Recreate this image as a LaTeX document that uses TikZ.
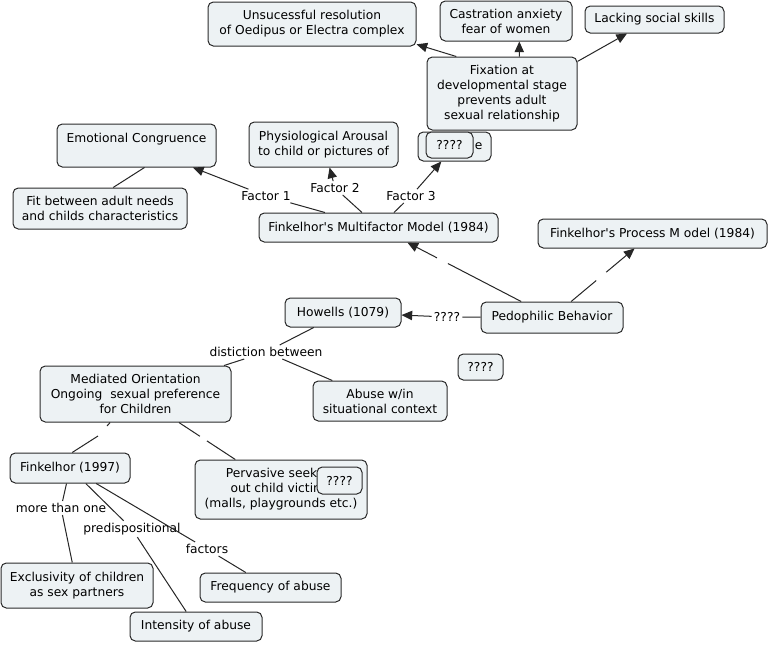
\documentclass[tikz,border=0pt]{standalone}
\usepackage{fontspec}
\setmainfont{DejaVu Sans}
\usetikzlibrary{arrows.meta,calc}
\definecolor{boxfill}{HTML}{EDF2F4}
\definecolor{boxline}{HTML}{2B2B2B}
\newcommand\fs{\fontsize{9.2}{11.25}\selectfont}
\newcommand\apo{\textquotesingle}
\begin{document}
\begin{tikzpicture}[x=0.75pt,y=-0.75pt,
  box/.style={draw=boxline,fill=boxfill,rounded corners=4pt,line width=0.75pt,align=center,inner sep=2pt,font=\fs},
  wh/.style 2 args={minimum width=#1*0.75pt,minimum height=#2*0.75pt},
  lab/.style={inner sep=1.5pt,font=\fs,align=center},
  con/.style={line width=0.75pt,draw=black!85},
  arr/.style={con,-{Triangle[length=8pt,width=7pt]}}]
\useasboundingbox[fill=white] (0,0) rectangle (769,644);

% nodes
\node[box,wh={208}{44}] (uns) at (312,24) {Unsucessful resolution\\of Oedipus or Electra complex};
\node[box,wh={132}{40}] (cas) at (506,21) {Castration anxiety\\fear of women};
\node[box,wh={139}{27}] (lack) at (654.5,19.5) {Lacking social skills};
\node[box,wh={150}{73}] (fix) at (502,93.5) {Fixation at\\developmental stage\\prevents adult\\sexual relationship};
\node[box,wh={73}{29}] (blk) at (454.5,146.5) {\phantom{Blockag}e};
\node[box,wh={47}{26}] (q3) at (449.5,145) {????};
\node[box,wh={159}{43}] (emo) at (136.5,145.5) {Emotional Congruence\\\mbox{}};
\node[box,wh={149}{45}] (phys) at (323.5,144.5) {Physiological Arousal\\to child or pictures of};
\node[box,wh={174}{41}] (fit) at (100,208.5) {Fit between adult needs\\and childs characteristics};
\node[box,wh={239}{29}] (multi) at (378.5,227.5) {Finkelhor\apo s Multifactor Model (1984)};
\node[box,wh={229}{29}] (proc) at (652.5,233.5) {Finkelhor\apo s Process M odel (1984)};
\node[box,wh={116}{29}] (how) at (343,312.5) {Howells (1079)};
\node[box,wh={142}{31}] (ped) at (552,317.5) {Pedophilic Behavior};
\node[box,wh={45}{26}] (q1) at (480.5,367) {????};
\node[box,wh={191}{56}] (med) at (135.5,394) {Mediated Orientation\\Ongoing~ sexual preference\\for Children};
\node[box,wh={134}{40}] (abuse) at (380,401) {Abuse w/in\\situational context};
\node[box,wh={120}{30}] (fink) at (70,468) {Finkelhor (1997)};
\node[box,wh={172}{59}] (perv) at (281,489.5) {Pervasive seek\phantom{ing}\\out child victim\phantom{s}\\(malls, playgrounds etc.)};
\node[box,wh={45}{27}] (q2) at (339.5,480.5) {????};
\node[box,wh={152}{45}] (excl) at (77,585.5) {Exclusivity of children\\as sex partners};
\node[box,wh={141}{29}] (freq) at (270.5,587.5) {Frequency of abuse};
\node[box,wh={132}{29}] (inten) at (196,626.5) {Intensity of abuse};

% linking phrases
\node[lab] (f1) at (266,196) {Factor 1};
\node[lab] (f2) at (335,188) {Factor 2};
\node[lab] (f3) at (411,196) {Factor 3};
\node[lab] (qq) at (447,317) {????};
\node[lab] (dist) at (266,352) {distiction between};
\node[lab] (more) at (61,508) {more than one};
\node[lab] (pred) at (132,529) {predispositional};
\node[lab] (fac) at (207,549) {factors};

% gap points
\coordinate (pm1) at ($(ped)!0.6!(multi)$);
\coordinate (pm2) at ($(ped)!0.663!(multi)$);
\coordinate (pp1) at ($(ped)!0.44!(proc)$);
\coordinate (pp2) at ($(ped)!0.54!(proc)$);
\coordinate (mf1) at (107,426);
\coordinate (mf2) at (98,436);
\coordinate (mp1) at ($(med)!0.443!(perv)$);
\coordinate (mp2) at ($(med)!0.491!(perv)$);

% connectors
\draw[arr] (fix.141) -- (uns.-11);
\draw[arr] (fix.65) -- (cas.-57);
\draw[arr] (fix.23) -- (lack.-153);
\draw[con] (emo.-70) -- (fit.58);
\draw[con] (multi) -- (f1); \draw[arr] (f1) -- (emo);
\draw[con] (multi) -- (f2); \draw[arr] (f2) -- (phys);
\draw[con] (multi) -- (f3); \draw[arr] (f3) -- (blk);
\draw[con] (ped) -- (pm1); \draw[arr] (pm2) -- (multi);
\draw[con] (ped) -- (pp1); \draw[arr] (pp2) -- (proc);
\draw[con] (ped) -- (qq); \draw[arr] (qq) -- (how);
\draw[con] (how) -- (dist);
\draw[con] (dist) -- (med);
\draw[con] (dist) -- (abuse);
\draw[con] (med) -- (mf1); \draw[con] (mf2) -- (fink.82);
\draw[con] (med) -- (mp1); \draw[con] (mp2) -- (perv);
\draw[con] (fink) -- (more); \draw[con] (more) -- (excl);
\draw[con] (fink) -- (pred); \draw[con] (pred) -- (inten);
\draw[con] (fink) -- (fac); \draw[con] (fac) -- (freq);
\end{tikzpicture}
\end{document}
